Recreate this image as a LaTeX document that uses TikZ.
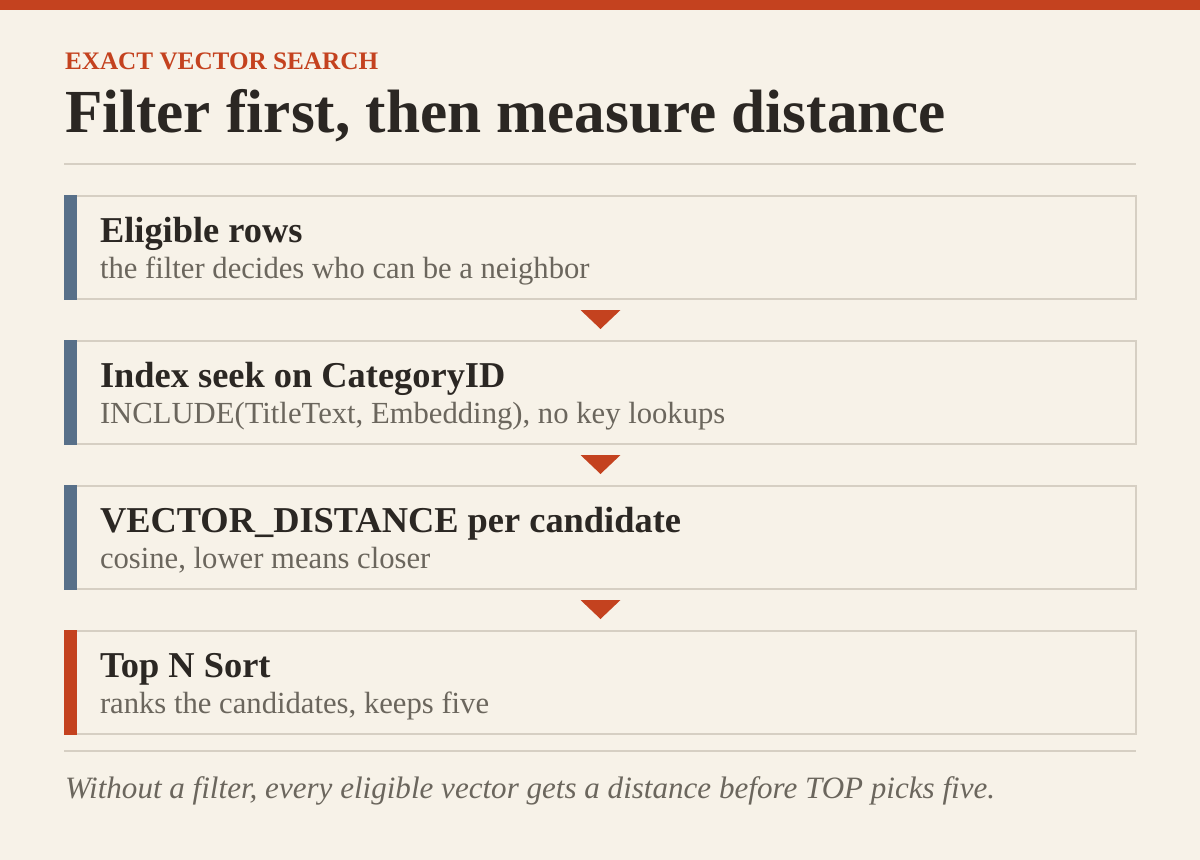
\documentclass[tikz,border=0pt]{standalone}
\usepackage{fontspec}
\setmainfont{Liberation Serif}
\usetikzlibrary{positioning,calc}

\definecolor{paper}{HTML}{F7F2E8}
\definecolor{rust}{HTML}{C4421F}
\definecolor{ink}{HTML}{2B2723}
\definecolor{muted}{HTML}{6B665D}
\definecolor{rulegray}{HTML}{D6CFC3}
\definecolor{slate}{HTML}{587089}

\begin{document}
\begin{tikzpicture}[x=0.75pt, y=-0.75pt, node distance={30pt}, line width=1.5pt,
		stepbox/.style={draw=rulegray, fill=paper, rectangle, minimum width=803.25pt, minimum height=77.25pt, inner sep=0pt},
		steptitle/.style={anchor=base west, inner sep=0pt, text=ink, font=\fontsize{27.3}{30}\selectfont\bfseries},
		stepnote/.style={anchor=base west, inner sep=0pt, text=muted, font=\fontsize{23}{26}\selectfont},
		marker/.style={fill=rust}]
		\fill[paper] (0,0) rectangle (1200,860);
		\useasboundingbox (0,0) rectangle (1200,860);
		\fill[rust] (0,0) rectangle (1200,10);

		% heading
		\node[anchor=base west, inner sep=0pt, text=rust, font=\fontsize{18.9}{20}\selectfont\bfseries] (kicker) at (64,69) {EXACT VECTOR SEARCH};
		\node[anchor=base west, inner sep=0pt, text=ink, font=\fontsize{45.9}{50}\selectfont\bfseries] (title) at (64,132) {Filter first, then measure distance};
		\draw[rulegray] (64,164) -- (1136,164);

		% steps
		\node[stepbox] (b1) at (600.5,247.5) {};
		\node[stepbox] (b2) [below = of b1] {};
		\node[stepbox] (b3) [below = of b2] {};
		\node[stepbox] (b4) [below = of b3] {};

		\fill[slate] (b1.north west) rectangle ($(b1.south west)+(13,0)$);
		\fill[slate] (b2.north west) rectangle ($(b2.south west)+(13,0)$);
		\fill[slate] (b3.north west) rectangle ($(b3.south west)+(13,0)$);
		\fill[rust] (b4.north west) rectangle ($(b4.south west)+(13,0)$);

		\node[steptitle] (t1) at ($(b1.north west)+(35,47)$) {Eligible rows};
		\node[stepnote] (n1) at ($(t1.base west)+(0,36)$) {the filter decides who can be a neighbor};
		\node[steptitle] (t2) at ($(b2.north west)+(35,47)$) {Index seek on CategoryID};
		\node[stepnote] (n2) at ($(t2.base west)+(0,36)$) {INCLUDE(TitleText, Embedding), no key lookups};
		\node[steptitle] (t3) at ($(b3.north west)+(35,47)$) {VECTOR\_DISTANCE per candidate};
		\node[stepnote] (n3) at ($(t3.base west)+(0,36)$) {cosine, lower means closer};
		\node[steptitle] (t4) at ($(b4.north west)+(35,47)$) {Top N Sort};
		\node[stepnote] (n4) at ($(t4.base west)+(0,36)$) {ranks the candidates, keeps five};

		\fill[marker] ($(b1.south)+(-20,10)$) -- ($(b1.south)+(20,10)$) -- ($(b2.north)+(0,-11)$) -- cycle;
		\fill[marker] ($(b2.south)+(-20,10)$) -- ($(b2.south)+(20,10)$) -- ($(b3.north)+(0,-11)$) -- cycle;
		\fill[marker] ($(b3.south)+(-20,10)$) -- ($(b3.south)+(20,10)$) -- ($(b4.north)+(0,-11)$) -- cycle;

		% footer
		\draw[rulegray] (64,751) -- (1136,751);
		\node[anchor=base west, inner sep=0pt, text=muted, font=\fontsize{23.3}{26}\selectfont\itshape] (foot) at (64,798) {Without a filter, every eligible vector gets a distance before TOP picks five.};
	\end{tikzpicture}
\end{document}
